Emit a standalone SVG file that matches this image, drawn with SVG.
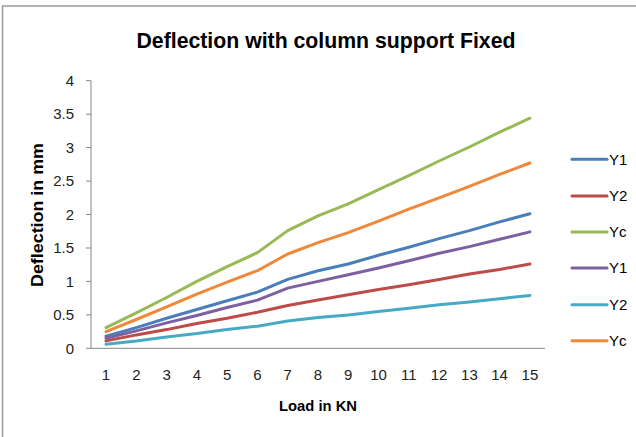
<svg xmlns="http://www.w3.org/2000/svg" width="636" height="437" viewBox="0 0 636 437">
<style>
.t{font-family:"Liberation Sans",Arial,sans-serif;fill:#000}
.tick{font-size:15px;fill:#222}
.bold{font-weight:bold}
.ax{stroke:#868686;stroke-width:1;fill:none}
.s{fill:none;stroke-width:3;stroke-linejoin:round;stroke-linecap:round}
.blue{stroke:#4a7ebb}.red{stroke:#be4b48}.green{stroke:#98b954}.purple{stroke:#7d60a0}.teal{stroke:#46aac5}.orange{stroke:#f0883a}
.leg{font-size:15px}
</style>
<rect x="0" y="0" width="636" height="437" fill="#fff"/>
<path d="M2.5,437 V6 H636" fill="none" stroke="#9a9a9a" stroke-width="1.5"/>
<g id="title"><text class="t bold" x="326" y="48" font-size="22" text-anchor="middle" textLength="379" lengthAdjust="spacingAndGlyphs">Deflection with column support Fixed</text></g>
<g id="axes">
<path class="ax" d="M91,80.7 V348.3 M86,348.3 H545 M86,80.7H91 M86,114.2H91 M86,147.6H91 M86,181.1H91 M86,214.5H91 M86,248H91 M86,281.4H91 M86,314.9H91"/>
<g class="t tick" text-anchor="end">
<text x="74" y="353.5">0</text>
<text x="74" y="320">0.5</text>
<text x="74" y="286.5">1</text>
<text x="74" y="253">1.5</text>
<text x="74" y="219.5">2</text>
<text x="74" y="186">2.5</text>
<text x="74" y="152.5">3</text>
<text x="74" y="119">3.5</text>
<text x="74" y="86">4</text>
</g>
<g class="t tick" text-anchor="middle">
<text x="106" y="380">1</text>
<text x="136.3" y="380">2</text>
<text x="166.6" y="380">3</text>
<text x="196.8" y="380">4</text>
<text x="227.1" y="380">5</text>
<text x="257.4" y="380">6</text>
<text x="287.7" y="380">7</text>
<text x="318" y="380">8</text>
<text x="348.2" y="380">9</text>
<text x="378.5" y="380">10</text>
<text x="408.8" y="380">11</text>
<text x="439.1" y="380">12</text>
<text x="469.4" y="380">13</text>
<text x="499.6" y="380">14</text>
<text x="529.9" y="380">15</text>
</g>
<text class="t bold" x="318" y="411" font-size="15" text-anchor="middle" textLength="78" lengthAdjust="spacingAndGlyphs">Load in KN</text>
<text class="t bold" transform="translate(43,215) rotate(-90)" font-size="16" text-anchor="middle" textLength="144" lengthAdjust="spacingAndGlyphs">Deflection in mm</text>
</g>
<g id="series">
<polyline id="y1a" class="s blue" points="106,336.3 136.3,327.6 166.6,318.2 196.8,309.5 227.1,300.8 257.4,292.1 287.7,279.4 318,270.7 348.2,264 378.5,255.3 408.8,247.3 439.1,238.6 469.4,230.6 499.6,221.9 529.9,213.8"/>
<polyline id="y2a" class="s red" points="106,340.9 136.3,334.9 166.6,329.6 196.8,323.5 227.1,318.2 257.4,312.2 287.7,305.5 318,300.1 348.2,294.8 378.5,289.4 408.8,284.7 439.1,279.4 469.4,274 499.6,269.4 529.9,264"/>
<polyline id="yca" class="s green" points="106,327.6 136.3,312.8 166.6,297.5 196.8,281.4 227.1,266.7 257.4,252.6 287.7,230.6 318,215.8 348.2,203.8 378.5,189.7 408.8,175.7 439.1,161 469.4,147 499.6,132.2 529.9,118.2"/>
<polyline id="y1b" class="s purple" points="106,338.3 136.3,330.9 166.6,322.9 196.8,315.5 227.1,307.5 257.4,300.1 287.7,288.1 318,281.4 348.2,274.7 378.5,268 408.8,260.7 439.1,253.3 469.4,246.6 499.6,239.3 529.9,231.9"/>
<polyline id="y2b" class="s teal" points="106,344.3 136.3,341 166.6,336.9 196.8,333.6 227.1,329.6 257.4,326.2 287.7,320.9 318,317.5 348.2,314.9 378.5,311.5 408.8,308.2 439.1,304.8 469.4,302.1 499.6,298.8 529.9,295.4"/>
<polyline id="ycb" class="s orange" points="106,331.6 136.3,319.5 166.6,306.8 196.8,294.1 227.1,282.1 257.4,270.7 287.7,254 318,242.6 348.2,232.6 378.5,221.2 408.8,209.1 439.1,197.8 469.4,186.4 499.6,174.4 529.9,163"/>
</g>
<g id="legend">
<line class="s blue" x1="572" y1="159.3" x2="607" y2="159.3"/><text class="t leg" x="609" y="164.5">Y1</text>
<line class="s red" x1="572" y1="196" x2="607" y2="196"/><text class="t leg" x="609" y="201.2">Y2</text>
<line class="s green" x1="572" y1="232" x2="607" y2="232"/><text class="t leg" x="609" y="237.2">Yc</text>
<line class="s purple" x1="572" y1="268" x2="607" y2="268"/><text class="t leg" x="609" y="273.2">Y1</text>
<line class="s teal" x1="572" y1="304.7" x2="607" y2="304.7"/><text class="t leg" x="609" y="309.9">Y2</text>
<line class="s orange" x1="572" y1="340.7" x2="607" y2="340.7"/><text class="t leg" x="609" y="345.9">Yc</text>
</g>
</svg>
